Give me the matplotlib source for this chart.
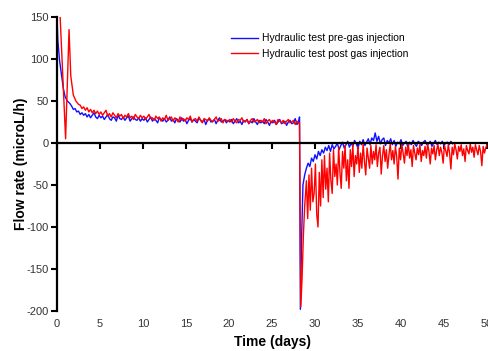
import numpy as np
import matplotlib
matplotlib.use("Agg")
import matplotlib.pyplot as plt

plt.rcParams['font.family'] = ['Liberation Sans', 'DejaVu Sans']
plt.rcParams['axes.unicode_minus'] = False

# ---- pre-gas hydraulic test (blue) ----
# start-up transient, explicit times (days)
pre_t0 = [0.0, 0.1, 0.3, 0.55, 0.75, 0.95, 1.2, 1.5]
pre_q0 = [152, 122, 98, 79, 64, 55, 50, 47]
# logged every 0.2 d from 1.7 d to 28.1 d
pre_q1 = [44, 40, 41, 37, 38, 34, 36,
          33, 35, 31, 34, 30, 33, 36, 31, 29, 33,
          30, 32, 28, 31, 34, 29, 27, 31, 30, 26, 33, 29, 28, 31, 27, 30, 32, 26, 29, 31, 28, 27, 30, 26, 29,
          27, 30, 25, 28, 31, 26, 29, 27, 24, 30, 28, 26, 29, 25, 27, 31, 26, 28, 24, 29, 27, 25, 30, 26,
          28, 23, 27, 29, 25, 28, 26, 24, 30, 27, 25, 28, 22, 27, 29, 25, 26, 28, 23, 27, 30, 25, 26, 28, 24, 27,
          25, 28, 23, 26, 29, 24, 26, 22, 27, 25, 28, 23, 26, 24, 29, 25, 22, 27, 24, 26, 23, 28, 25, 21,
          26, 24, 27, 22, 25, 28, 23, 24, 26, 21, 25, 27, 23, 24, 29, 22, 25]
# reversal of the gradient
pre_t2 = [28.2, 28.3, 28.45, 28.6, 28.8]
pre_q2 = [31, -198, -110, -50, -38]
# logged every 0.2 d from 29.0 d to 46.0 d
pre_q3 = [-30, -24, -28, -18, -22, -14, -19, -10, -15, -8,
          -12, -5, -9, -3, -10, -2, -7, -4, 0, -8,
          -3, 1, -6, -2, 2, -5, 0, -4, 3, -1, -6, 2, -2, 4, -3, 1, 5, -2, 6, 3,
          12, 2, 8, -1, 4, 6, -3, 3, 0, 5,
          -2, 3, -4, 1, -1, 4, -3, 0, 2, -5, 1, -2, 3, -1, -4, 2, 0, -3, 1, 3,
          -2, -1, 2, -4, 0, 3, -2, 1, -1, 2, -3, 0, 1, -2, 2, -1]

# ---- post-gas hydraulic test (red) ----
post_t0 = [0.3, 1.0, 1.4, 1.6, 1.9, 2.2, 2.5]
post_q0 = [165, 5, 135, 80, 57, 50, 46]
# logged every 0.2 d from 2.7 d to 28.1 d
post_q1 = [45, 41, 43, 39, 42, 37, 40, 36, 39, 35, 38, 34,
           37, 33, 36, 39, 32, 35, 31, 36, 33, 30, 35, 32, 34, 29, 33, 31, 35, 30, 32, 28, 34, 31, 29, 33, 30,
           32, 28, 31, 34, 29, 30, 27, 32, 29, 31, 26, 30, 28, 33, 27, 29, 31, 26, 30, 28, 25, 31, 27, 29,
           26, 30, 28, 32, 25, 28, 29, 26, 31, 27, 24, 29, 28, 26, 30, 27, 25, 28, 31, 26, 27, 29, 24, 28, 27, 26,
           28, 25, 29, 26, 24, 28, 27, 30, 25, 26, 28, 23, 27, 29, 25, 26, 28, 24, 27, 25, 29, 23, 26, 28,
           24, 27, 25, 22, 28, 26, 24, 27, 23, 26, 28, 24, 25, 27, 22, 26, 24]
post_t2 = [28.2, 28.35, 28.5, 28.65, 28.8]
post_q2 = [24, -195, -160, -110, -75]
# logged every 0.15 d from 29.0 d to 50.0 d
post_q3 = [-45, -90, -38, -80, -30, -70, -60, -25, -85, -100, -35, -75, -20, -65,
           -15, -55, -30, -70, -12, -45, -60, -8, -40, -25, -50, -5, -35, -54,
           -10, -30, -3, -45, -20, -54, -8, -28, -2, -40, -15, -25, -4, -35, -12, -30, -1, -22, -38, -6,
           -18, -30, -3, -25, -10, -20, -2, -28, -12, -5, -37, -15, -3, -22, -8, -30, -14, -1, -20, -9,
           -25, -4, -16, -43, -6, -20, -2, -12, -24, -5, -15, -1, -18, -8, -28, -3, -12, -20, -6, -14,
           -2, -22, -9, -15, -4, -18, -1, -10, -25, -6, -13, -3, -20, -8, -2, -15, -5, -11, -24, -3,
           -9, -16, -2, -12, -31, -5, -14, -1, -8, -19, -4, -10, -2, -15, -7, -22, -3, -9, -13, -1,
           -11, -5, -17, -2, -8, -14, -3, -10, -27, -4, -12, -6, -2]

x_ticks = [0, 5, 10, 15, 20, 25, 30, 35, 40, 45, 50]
y_ticks = [-200, -150, -100, -50, 0, 50, 100, 150]

pre_t = np.concatenate([pre_t0, np.linspace(1.7, 28.1, len(pre_q1)),
                        pre_t2, np.linspace(29.0, 46.0, len(pre_q3))])
pre_q = np.concatenate([pre_q0, pre_q1, pre_q2, pre_q3])
post_t = np.concatenate([post_t0, np.linspace(2.7, 28.1, len(post_q1)),
                         post_t2, np.linspace(29.0, 50.0, len(post_q3))])
post_q = np.concatenate([post_q0, post_q1, post_q2, post_q3])

fig = plt.figure(figsize=(4.88, 3.51), dpi=100)
ax = fig.add_axes([57 / 488, 1 - 311 / 351, 430 / 488, 294 / 351])

ax.plot(pre_t, pre_q, color='#1010ff', lw=1.0, label='Hydraulic test pre-gas injection')
ax.plot(post_t, post_q, color='#ff0000', lw=1.0, label='Hydraulic test post gas injection')

ax.set_xlim(0, 50)
ax.set_ylim(-200, 150)
ax.set_yticks(y_ticks)
ax.set_xticks(x_ticks)

# x axis line crosses at zero, labels stay at the bottom
ax.spines['bottom'].set_position(('data', 0))
ax.spines['top'].set_visible(False)
ax.spines['right'].set_visible(False)
for s in ['left', 'bottom']:
    ax.spines[s].set_linewidth(1.6)
ax.tick_params(axis='x', labelbottom=False, direction='out', length=4, width=1.5)
ax.tick_params(axis='y', direction='out', length=4, width=1.5, labelsize=8,
               labelcolor='#333333', pad=2)

sec = ax.secondary_xaxis(0.0)
sec.set_xticks(x_ticks)
sec.spines['bottom'].set_visible(False)
sec.tick_params(length=0, labelsize=8, labelcolor='#333333', pad=6)
sec.set_xlabel('Time (days)', fontsize=10, fontweight='bold', labelpad=4)

ax.set_ylabel('Flow rate (microL/h)', fontsize=10, fontweight='bold', labelpad=-1)

ax.legend(loc='upper left', bbox_to_anchor=(222 / 488, 1 - 24 / 351),
          bbox_transform=fig.transFigure, frameon=False, fontsize=7.5,
          handlelength=2.6, handletextpad=0.3, labelspacing=0.55)

fig.savefig('out.png', dpi=100)
